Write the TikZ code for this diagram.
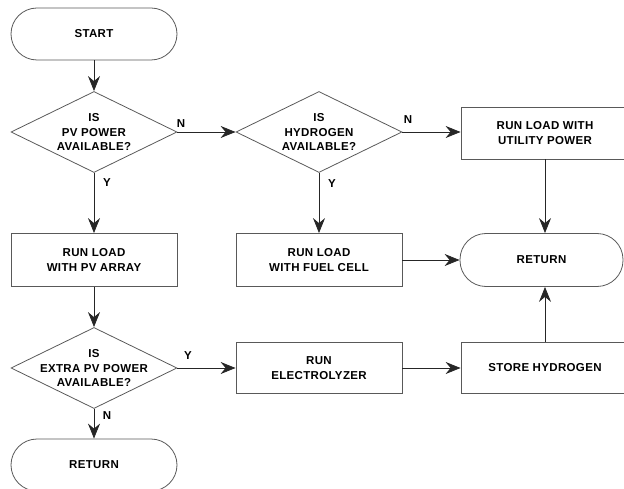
\documentclass[tikz,border=0pt]{standalone}
\usepackage{fontspec}
\setmainfont{Liberation Sans}[LetterSpace=3]
\usetikzlibrary{shapes.geometric,arrows.meta}

\tikzset{
  base/.style={draw=black!65, line width=0.8pt, align=center, inner sep=0pt,
    font=\fontsize{11.5}{14.7}\selectfont\bfseries},
  term/.style={base, rectangle, rounded corners=26pt, minimum width=166pt, minimum height=52pt},
  proc/.style={base, rectangle, minimum width=166pt, minimum height=52pt},
  ask/.style={base, diamond, aspect=2.05, inner xsep=-18pt, inner ysep=-6pt,
    minimum width=166pt, minimum height=81pt},
  arr/.style={draw=black!85, line width=0.8pt, -{Stealth[length=15pt,width=12pt,inset=5pt]}},
  tag/.style={font=\fontsize{11.5}{12}\selectfont\bfseries, inner sep=0pt}
}

\begin{document}
\begin{tikzpicture}[x=1pt,y=-1pt]
  \useasboundingbox (0,0) rectangle (624,489);

  \node[term] (start) at (94,34) {START};
  \node[ask] (q1) at (94,132) {IS\\PV POWER\\AVAILABLE?};
  \node[ask] (q2) at (319,132) {IS\\HYDROGEN\\AVAILABLE?};
  \node[proc, minimum width=168pt] (util) at (545,133) {RUN LOAD WITH\\UTILITY POWER};
  \node[proc, minimum height=53pt] (pvrun) at (94,260) {RUN LOAD\\WITH PV ARRAY};
  \node[proc, minimum height=53pt] (fuel) at (319,260) {RUN LOAD\\WITH FUEL CELL};
  \node[term, minimum width=163pt, minimum height=53pt] (ret1) at (541.5,260) {RETURN};
  \node[ask] (q3) at (94,368) {IS\\EXTRA PV POWER\\AVAILABLE?};
  \node[proc, minimum height=51pt] (elec) at (319,368) {RUN\\ELECTROLYZER};
  \node[proc, minimum width=168pt, minimum height=51pt] (store) at (545,368) {STORE HYDROGEN};
  \node[term] (ret2) at (94,465) {RETURN};

  % labels
  \node[tag] (n1) at (181,124) {N};
  \node[tag] (y1) at (107,183) {Y};
  \node[tag] (n2) at (408,120) {N};
  \node[tag] (y2) at (332,184) {Y};
  \node[tag] (y3) at (188,356) {Y};
  \node[tag] (n3) at (107,416) {N};

  \draw[arr] (start) -- (q1);
  \draw[arr] (q1) -- (q2);
  \draw[arr] (q2) -- (util.west |- q2.east);
  \draw[arr] (q1) -- (pvrun);
  \draw[arr] (q2) -- (fuel);
  \draw[arr] (util.south) -- (util.south |- ret1.north);
  \draw[arr] (fuel) -- (ret1);
  \draw[arr] (pvrun) -- (q3);
  \draw[arr] (q3) -- (elec);
  \draw[arr] (elec) -- (store);
  \draw[arr] (store.north) -- (store.north |- ret1.south);
  \draw[arr] (q3) -- (ret2);
\end{tikzpicture}
\end{document}
